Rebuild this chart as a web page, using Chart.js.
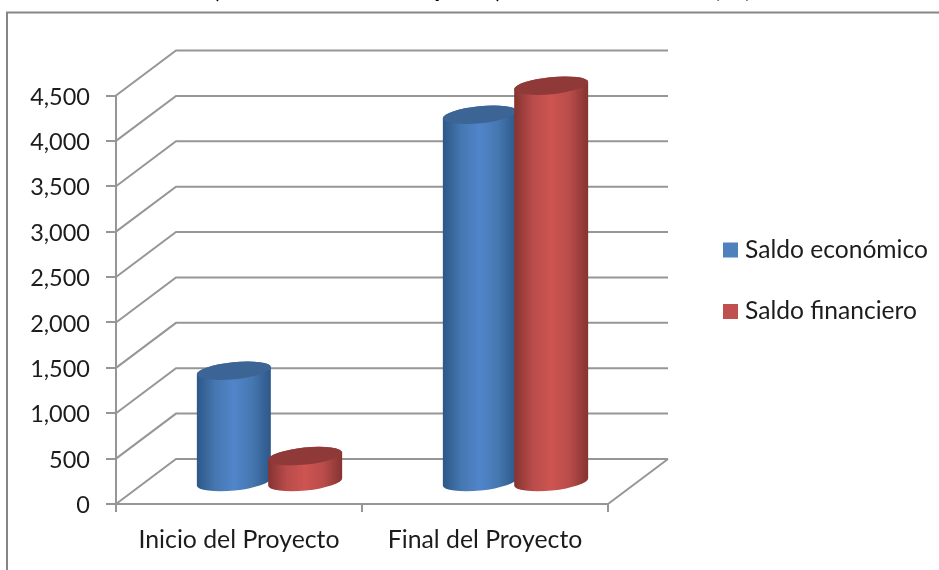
<!DOCTYPE html>
<html>
<head>
<meta charset="utf-8">
<style>
  body { margin: 0; background: #fff; }
  canvas { display: block; filter: blur(0.45px); }
</style>
<script src="https://cdn.jsdelivr.net/npm/chart.js@4"></script>
</head>
<body>
<canvas id="myChart" width="939" height="570"></canvas>
<script>
const categories = ['Inicio del Proyecto', 'Final del Proyecto']
const saldoEconomico = [1220, 4040]
const saldoFinanciero = [280, 4360]
const seriesNames = ['Saldo económico', 'Saldo financiero']
const yTicks = [0, 500, 1000, 1500, 2000, 2500, 3000, 3500, 4000, 4500]

const FONT = 'Lato, "Open Sans", sans-serif'
const TEXT = '#1c1c1c'
const LINE = '#969696'
const DEPTH_X = 60
const DEPTH_Y = -45

// body edge, body shoulder, body centre, top cap
const cylinderColors = [
  ['#2c5788', '#4577b0', '#5085cb', '#3c6595'],
  ['#843331', '#b94c4a', '#cd5451', '#8f3a38']
]
const legendColors = ['#4f81bd', '#c0504d']

// --- FRAME | cropped picture border and title --- //
const frame = {
  id: 'frame',
  beforeDraw: chart => {
    const ctx = chart.ctx
    ctx.save()
    ctx.fillStyle = '#fff'
    ctx.fillRect(0, 0, 939, 570)
    ctx.strokeStyle = '#868686'
    ctx.lineWidth = 2
    ctx.beginPath()
    ctx.moveTo(7, 570)
    ctx.lineTo(7, 12.5)
    ctx.lineTo(939, 12.5)
    ctx.stroke()
    // only the descenders of the title survive the crop
    ctx.fillStyle = '#000'
    ctx.font = `bold 24px ${FONT}`
    ctx.textAlign = 'center'
    ctx.fillText(',', 218, -2)
    ctx.fillText('p', 441, -3)
    ctx.fillText(',', 498, -2)
    ctx.fillText('(', 717, -3)
    ctx.fillText(')', 748, -3)
    ctx.restore()
  }
}

// --- WALLS | back and side gridlines --- //
const walls = {
  id: 'walls',
  beforeDatasetsDraw: chart => {
    const ctx = chart.ctx
    const { x, y } = chart.scales
    const left = x.left
    const right = x.right
    ctx.save()
    ctx.strokeStyle = LINE
    ctx.lineWidth = 2
    ctx.beginPath()
    yTicks.forEach(tick => {
      const py = y.getPixelForValue(tick)
      ctx.moveTo(left, py)
      ctx.lineTo(left + DEPTH_X, py + DEPTH_Y)
      ctx.lineTo(right + DEPTH_X, py + DEPTH_Y)
    })
    const floor = y.getPixelForValue(0)
    ctx.moveTo(right, floor)
    ctx.lineTo(right + DEPTH_X, floor + DEPTH_Y)
    ctx.stroke()
    ctx.restore()
  }
}

// --- CYLINDERS | drawn on the bar elements, half way into the depth --- //
const cylinders = {
  id: 'cylinders',
  afterDatasetsDraw: chart => {
    const ctx = chart.ctx
    const tilt = -0.1
    chart.data.datasets.forEach((dataset, i) => {
      const [edge, shoulder, centre, cap] = cylinderColors[i]
      chart.getDatasetMeta(i).data.forEach(bar => {
        const cx = bar.x + DEPTH_X / 2 + 0.5
        const top = bar.y + DEPTH_Y / 2
        const bottom = bar.base + DEPTH_Y / 2 + 1.5
        const rx = bar.width / 2 + 1.5
        const ry = 8.5

        const gradient = ctx.createLinearGradient(cx - rx, 0, cx + rx, 0)
        gradient.addColorStop(0, edge)
        gradient.addColorStop(0.25, shoulder)
        gradient.addColorStop(0.5, centre)
        gradient.addColorStop(0.75, shoulder)
        gradient.addColorStop(1, edge)

        ctx.save()
        ctx.fillStyle = gradient
        ctx.beginPath()
        ctx.ellipse(cx, bottom, rx, ry, tilt, 0, Math.PI)
        ctx.ellipse(cx, top, rx, ry, tilt, Math.PI, Math.PI * 2)
        ctx.closePath()
        ctx.fill()

        ctx.fillStyle = cap
        ctx.beginPath()
        ctx.ellipse(cx, top, rx, ry, tilt, 0, Math.PI * 2)
        ctx.fill()
        ctx.restore()
      })
    })
  }
}

// --- LABELS | y tick text and legend --- //
const sideText = {
  id: 'sideText',
  afterDraw: chart => {
    const ctx = chart.ctx
    const y = chart.scales.y
    ctx.save()
    ctx.textBaseline = 'middle'

    ctx.font = `23.5px ${FONT}`
    ctx.fillStyle = TEXT
    ctx.textAlign = 'right'
    y.ticks.forEach(tick => {
      ctx.fillText(tick.label, 90, y.getPixelForValue(tick.value) + 1.5)
    })

    ctx.font = `24.6px ${FONT}`
    ctx.textAlign = 'left'
    chart.data.datasets.forEach((dataset, i) => {
      const row = 250 + i * 61.5
      ctx.fillStyle = legendColors[i]
      ctx.fillRect(723, row - 7.5, 15, 15)
      ctx.fillStyle = TEXT
      ctx.fillText(dataset.label, 745, row)
    })
    ctx.restore()
  }
}

const chartMain = new Chart(document.getElementById('myChart'), {
  type: 'bar',
  data: {
    labels: categories,
    datasets: [
      { label: seriesNames[0], data: saldoEconomico, backgroundColor: 'transparent' },
      { label: seriesNames[1], data: saldoFinanciero, backgroundColor: 'transparent' }
    ]
  },
  options: {
    responsive: false,
    animation: false,
    layout: { padding: { top: 95.5, right: 331, bottom: 0, left: 0 } },
    datasets: { bar: { categoryPercentage: 0.58, barPercentage: 1 } },
    scales: {
      x: {
        afterFit: scale => { scale.height = 66 },
        grid: { drawOnChartArea: false, color: LINE, lineWidth: 2, tickLength: 8 },
        border: { color: LINE, width: 2 },
        ticks: { color: TEXT, padding: 13, maxRotation: 0, font: { family: FONT, size: 24.8 } }
      },
      y: {
        min: 0,
        max: 4500,
        afterFit: scale => { scale.width = 116 },
        afterBuildTicks: scale => { scale.ticks = yTicks.map(value => ({ value })) },
        grid: { drawOnChartArea: false, color: LINE, lineWidth: 2, tickLength: 10 },
        border: { color: LINE, width: 2 },
        ticks: {
          display: false,
          callback: value => value.toLocaleString('en-US')
        }
      }
    },
    plugins: { legend: { display: false }, tooltip: { enabled: false } }
  },
  plugins: [frame, walls, cylinders, sideText]
})
</script>
</body>
</html>
